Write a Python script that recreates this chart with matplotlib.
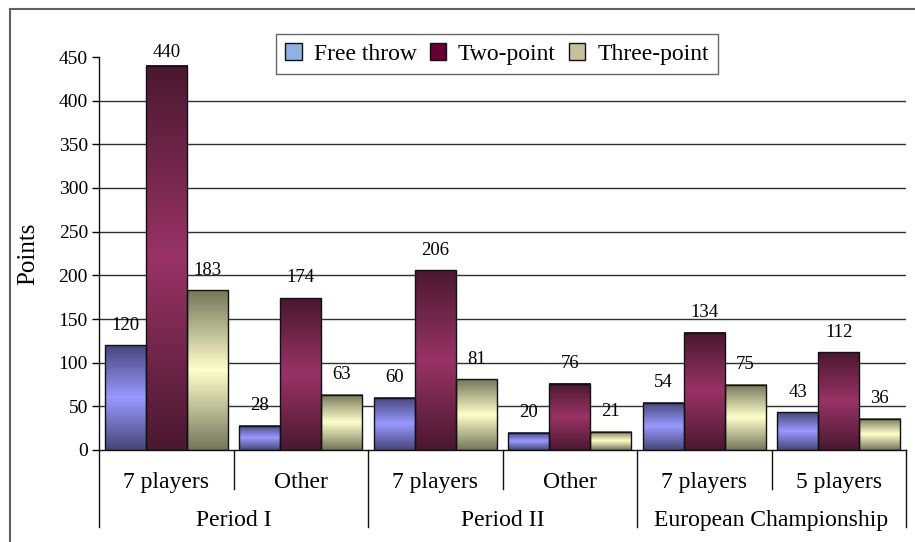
import matplotlib
matplotlib.use("Agg")
import matplotlib.pyplot as plt
import numpy as np
from matplotlib.colors import LinearSegmentedColormap
from matplotlib.lines import Line2D
from matplotlib.patches import Patch
import matplotlib.transforms as mtransforms

plt.rcParams["font.family"] = ["Liberation Serif", "DejaVu Serif"]

# data
subcats = ["7 players", "Other", "7 players", "Other", "7 players", "5 players"]
groups = ["Period I", "Period II", "European Championship"]
group_span = [2, 2, 2]
series = ["Free throw", "Two-point", "Three-point"]
free_throw = [120, 28, 60, 20, 54, 43]
two_point = [440, 174, 206, 76, 134, 112]
three_point = [183, 63, 81, 21, 75, 36]
yticks = [0, 50, 100, 150, 200, 250, 300, 350, 400, 450]

# gradient colours: (edge, centre) per series, plus flat legend colour
grad = [("#46467a", "#9999ff"), ("#4a1830", "#993366"), ("#75755a", "#ffffcc")]
legend_cols = ["#8db3e2", "#660033", "#c8c09a"]

W, H = 915, 542
fig = plt.figure(figsize=(W / 100, H / 100), dpi=100)
ax = fig.add_axes([99 / W, (H - 450) / H, 807 / W, 393 / H])

x = np.arange(len(subcats))
bw = 0.305
ymax = yticks[-1]
grad_img = np.abs(np.linspace(-1, 1, 256))[:, None]
for i, vals in enumerate([free_throw, two_point, three_point]):
    bars = ax.bar(x + (i - 1) * bw, vals, bw, facecolor="none",
                  edgecolor="#111111", lw=1.0, zorder=3)
    cmap = LinearSegmentedColormap.from_list("g%d" % i, [grad[i][1], grad[i][0]])
    for p, v in zip(bars.patches, vals):
        ax.imshow(grad_img, cmap=cmap, vmin=0, vmax=1, aspect="auto",
                  extent=(p.get_x(), p.get_x() + p.get_width(), 0, p.get_height()),
                  zorder=2, interpolation="bilinear")
        # label sits ~20 px above the bar, but stays inside the chart top
        ax.text(p.get_x() + p.get_width() / 2, min(v + 23, ymax + 5), f"{v}",
                ha="center", va="center", fontsize=13.5)

ax.set_xlim(-0.5, len(subcats) - 0.5)
ax.set_ylim(0, ymax)
ax.set_yticks(yticks)
ax.set_yticklabels([str(t) for t in yticks], fontsize=14)
ax.tick_params(axis="y", direction="out", length=5, width=1, pad=3)
ax.set_xticks([])
for s in ("top", "right"):
    ax.spines[s].set_visible(False)
for s in ("left", "bottom"):
    ax.spines[s].set_color("#111111")
    ax.spines[s].set_linewidth(1.0)

for t in yticks[1:-1]:
    ax.axhline(t, color="#303030", lw=1.0, zorder=1)

ax.set_ylabel("Points", fontsize=18)
ax.yaxis.set_label_coords(-0.074, 0.5)

# multi-level category axis
trans = mtransforms.blended_transform_factory(ax.transData, ax.transAxes)
for k, name in enumerate(subcats):
    ax.text(k, -0.083, name, transform=trans, ha="center", va="center",
            fontsize=17, clip_on=False)
edges = np.cumsum([0] + group_span) - 0.5
for k in range(len(subcats) + 1):
    xe = k - 0.5
    bottom = -0.195 if np.any(np.isclose(edges, xe)) else -0.1
    ax.add_line(Line2D([xe, xe], [0, bottom], transform=trans, color="#111111",
                       lw=1.0, clip_on=False))
for g, name in enumerate(groups):
    ax.text((edges[g] + edges[g + 1]) / 2, -0.18, name, transform=trans,
            ha="center", va="center", fontsize=17, clip_on=False)

# legend
handles = [Patch(facecolor=c, edgecolor="#111111", lw=1.0) for c in legend_cols]
leg = fig.legend(handles, series, loc="center", bbox_to_anchor=(497 / W, 1 - 54 / H),
                 ncol=3, fontsize=17, frameon=True, fancybox=False,
                 handlelength=0.7, handleheight=0.7, handletextpad=0.5,
                 columnspacing=0.55, borderpad=0.4)
leg.get_frame().set_edgecolor("#404040")
leg.get_frame().set_linewidth(1.0)

# outer chart frame (only left and top visible in the crop)
fig.add_artist(Line2D([10 / W, 10 / W], [0, 1 - 9 / H], color="#606060", lw=1.5))
fig.add_artist(Line2D([10 / W, 1], [1 - 9 / H, 1 - 9 / H], color="#606060", lw=1.5))

fig.savefig("out.png", dpi=100)
